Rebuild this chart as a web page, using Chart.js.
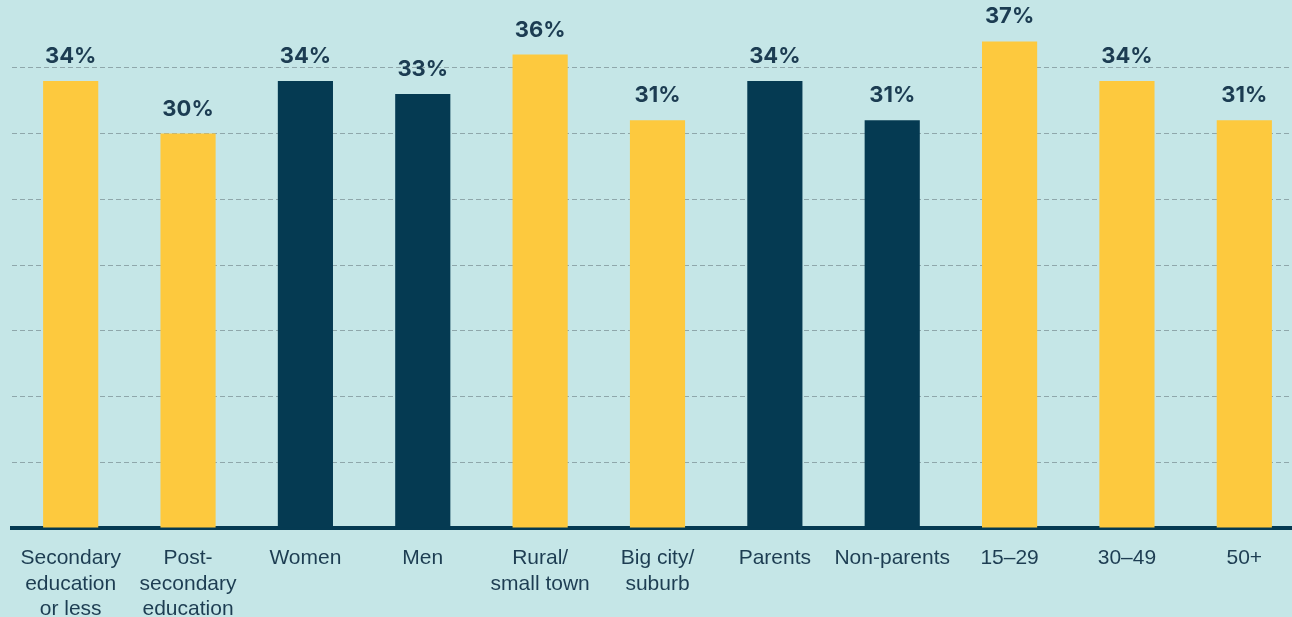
<!DOCTYPE html>
<html>
<head>
<meta charset="utf-8">
<script src="https://cdn.jsdelivr.net/npm/chart.js@4"></script>
<style>
  html, body { margin: 0; padding: 0; background: #c5e6e7; overflow: hidden; }
  #wrap { width: 1306px; height: 617px; position: relative; }
</style>
</head>
<body>
<div id="wrap"><canvas id="barChart"></canvas></div>
<script>
// Share of respondents by group
const categories = [
  ['Secondary', 'education', 'or less'],
  ['Post-', 'secondary', 'education'],
  'Women',
  'Men',
  ['Rural/', 'small town'],
  ['Big city/', 'suburb'],
  'Parents',
  'Non-parents',
  '15–29',
  '30–49',
  '50+'
];
const shares = [34, 30, 34, 33, 36, 31, 34, 31, 37, 34, 31];
const groups = ['education', 'education', 'gender', 'gender', 'location', 'location',
                'parent', 'parent', 'age', 'age', 'age'];

const YELLOW = '#fdc93e';
const NAVY = '#053a52';
const barColors = groups.map(g => (g === 'gender' || g === 'parent') ? NAVY : YELLOW);

// value labels above the bars
const valueLabels = {
  id: 'valueLabels',
  afterDatasetsDraw(chart) {
    const ctx = chart.ctx;
    const meta = chart.getDatasetMeta(0);
    ctx.save();
    ctx.font = '700 22px Inter';
    ctx.fillStyle = '#1c3c52';
    ctx.textAlign = 'center';
    ctx.textBaseline = 'alphabetic';
    meta.data.forEach((bar, i) => {
      ctx.fillText(shares[i] + '%', bar.x, bar.y - 18);
    });
    ctx.restore();
  }
};

const ctx = document.getElementById('barChart').getContext('2d');
const chart = new Chart(ctx, {
  type: 'bar',
  data: {
    labels: categories,
    datasets: [{
      data: shares,
      backgroundColor: barColors,
      borderWidth: 0,
      barPercentage: 0.47,
      categoryPercentage: 1
    }]
  },
  options: {
    responsive: true,
    maintainAspectRatio: false,
    animation: false,
    layout: { padding: { left: 12, right: 3, top: 2, bottom: 0 } },
    plugins: {
      legend: { display: false },
      tooltip: { enabled: false }
    },
    scales: {
      x: {
        grid: { display: false, drawTicks: false },
        border: { display: true, color: NAVY, width: 4 },
        ticks: {
          color: '#1d3d52',
          font: { family: 'Liberation Sans', size: 21 },
          padding: 18,
          maxRotation: 0,
          autoSkip: false
        },
        afterFit(scale) { scale.height = 89; }
      },
      y: {
        min: 0,
        max: 40,
        grid: {
          drawTicks: false,
          color: ctx => (ctx.tick.value === 0 || ctx.tick.value === 40) ? 'rgba(0,0,0,0)' : '#8fa7ab',
          lineWidth: 1
        },
        border: { display: false, dash: [5, 3] },
        ticks: { display: false, stepSize: 5 },
        afterFit(scale) { scale.width = 0; }
      }
    }
  },
  plugins: [valueLabels]
});
</script>
</body>
</html>
